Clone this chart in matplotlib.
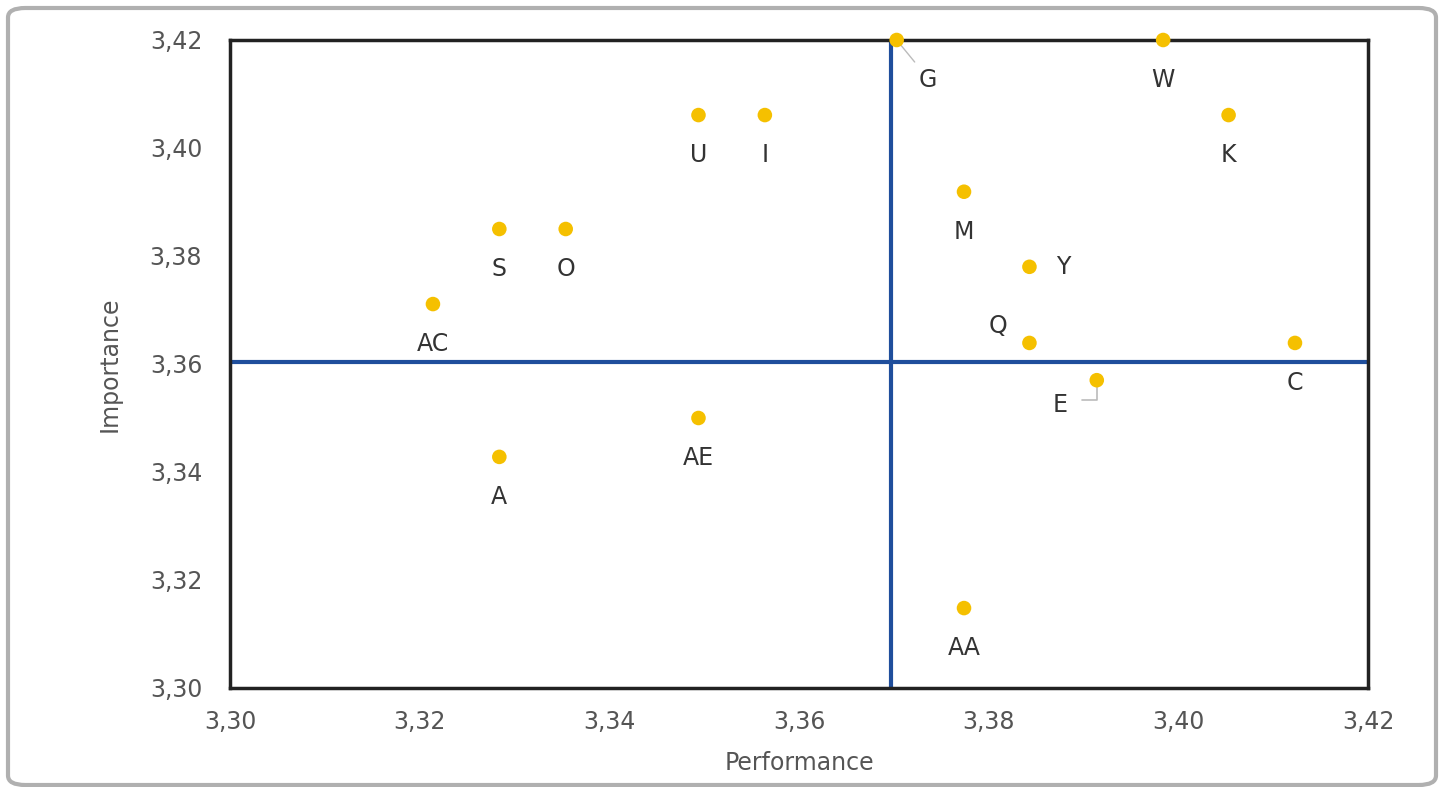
import matplotlib
matplotlib.use("Agg")
import matplotlib.pyplot as plt
from matplotlib.patches import FancyBboxPatch
from matplotlib.ticker import FuncFormatter

plt.rcParams['font.family'] = ['DejaVu Sans']

labels = ["G", "W", "K", "U", "I", "M", "S", "O", "Y", "AC", "Q", "C", "E", "AE", "A", "AA"]
performance = [3.3703, 3.3984, 3.4053, 3.3494, 3.3564, 3.3774, 3.3284, 3.3354, 3.3843,
               3.3214, 3.3843, 3.4123, 3.3914, 3.3494, 3.3284, 3.3774]
importance = [3.4200, 3.4200, 3.4061, 3.4061, 3.4061, 3.3919, 3.3850, 3.3850, 3.3780,
              3.3711, 3.3639, 3.3639, 3.3570, 3.3500, 3.3428, 3.3148]
perf_mean = 3.3697
imp_mean = 3.3604
ticks = [3.30, 3.32, 3.34, 3.36, 3.38, 3.40, 3.42]

# label offsets in pixels (dx, dy) relative to point
offsets = {"G": (31, -40), "Y": (34, 0), "Q": (-31, 17), "E": (-37, -25)}
default_offset = (0, -40)

fig = plt.figure(figsize=(14.44, 7.87), dpi=100)
border = FancyBboxPatch((8 / 1444, 2 / 787), 1428 / 1444, 777 / 787,
                        boxstyle="round,pad=0,rounding_size=0.012",
                        transform=fig.transFigure, facecolor="none",
                        edgecolor="#b0b0b0", linewidth=3, zorder=10)
fig.patches.append(border)

ax = fig.add_axes([230 / 1444, 1 - 688 / 787, 1138 / 1444, 648 / 787])
ax.set_xlim(3.30, 3.42)
ax.set_ylim(3.30, 3.42)
ax.set_xticks(ticks)
ax.set_yticks(ticks)
fmt = FuncFormatter(lambda v, p: f"{v:.2f}".replace(".", ","))
ax.xaxis.set_major_formatter(fmt)
ax.yaxis.set_major_formatter(fmt)
ax.tick_params(length=0, labelsize=17, colors="#555555")
ax.tick_params(axis="y", pad=20)
ax.tick_params(axis="x", pad=16)
for s in ax.spines.values():
    s.set_linewidth(2.5)
    s.set_color("#222222")
    s.set_zorder(3)

ax.axvline(perf_mean, color="#1f4e9c", lw=3, zorder=2)
ax.axhline(imp_mean, color="#1f4e9c", lw=3, zorder=2)

ax.scatter(performance, importance, s=110, color="#f5c000", zorder=5,
           clip_on=False, edgecolors="none")

for lab, x, y in zip(labels, performance, importance):
    dx, dy = offsets.get(lab, default_offset)
    ax.annotate(lab, (x, y), xytext=(dx, dy), textcoords="offset pixels",
                ha="center", va="center", fontsize=17, color="#333333", zorder=6)

# leader lines
ax.annotate("", (performance[0], importance[0]), xytext=(18, -22), textcoords="offset pixels",
            arrowprops=dict(arrowstyle="-", color="#bbbbbb", lw=1, shrinkA=0, shrinkB=4))
ax.annotate("", (performance[12], importance[12]), xytext=(-15, -20), textcoords="offset pixels",
            arrowprops=dict(arrowstyle="-", color="#bbbbbb", lw=1.2, shrinkA=0, shrinkB=5,
                            connectionstyle="angle,angleA=0,angleB=90,rad=0"))

ax.set_xlabel("Performance", fontsize=17, color="#555555", labelpad=12)
ax.set_ylabel("Importance", fontsize=17, color="#555555", labelpad=20)

fig.savefig("out.png", dpi=100)
